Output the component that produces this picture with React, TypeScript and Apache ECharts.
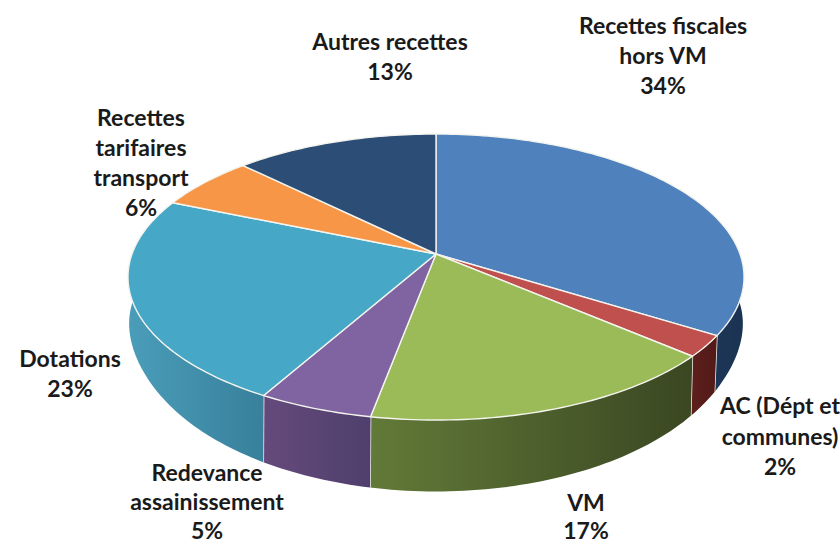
import React, { useEffect, useRef } from "react";
import * as echarts from "echarts";

const categories = [
  "Recettes fiscales\nhors VM",
  "AC (Dépt et\ncommunes)",
  "VM",
  "Redevance\nassainissement",
  "Dotations",
  "Recettes\ntarifaires\ntransport",
  "Autres recettes",
];
const values = [34.0, 2.4, 16.5, 5.2, 23.3, 6.1, 12.5];

const topColors = ["#4F81BD", "#C0504D", "#9BBB59", "#8064A2", "#46A8C6", "#F79646", "#2C4D75"];
const wallLeft = ["#1F3B60", "#5E1F1C", "#627A38", "#654A7C", "#4A9DB9", "#A8642E", "#1F3B60"];
const wallRight = ["#1B3352", "#511A18", "#3A4722", "#4F3F6C", "#38809C", "#A8642E", "#1F3B60"];
const labelFirstLines = [
  [663, 25], [780, 405], [586, 502], [207, 472], [70, 358], [141, 117], [390, 41],
];
const LINE_STEP = [30, 30.5, 27.5, 28.75, 30, 30, 30];

const CX = 436;
const total = values.reduce((a, b) => a + b, 0);
const startOf = (i: number) => values.slice(0, i).reduce((a, b) => a + b, 0);
const toAngle = (v: number) => (v / total) * 2 * Math.PI;

const project = (t: number, a: number, b: number, k: number, cy: number) => {
  const z = -Math.cos(t);
  const d = 1 - k * z;
  return [CX + (a * Math.sin(t)) / d, cy + (b * z) / d];
};
const topPoint = (t: number) => project(t, 304, 139.3, 0.161, 254);
const basePoint = (t: number) => {
  const p = project(t, 295, 155.5, 0.192, 299);
  const f = 1 + 0.025 * Math.pow(Math.sin(t), 12);
  return [CX + (p[0] - CX) * f, p[1]];
};

const sample = (a0: number, a1: number, fn: (t: number) => number[]) => {
  const n = Math.max(2, Math.ceil((a1 - a0) / 0.02));
  const out: number[][] = [];
  for (let i = 0; i <= n; i++) out.push(fn(a0 + ((a1 - a0) * i) / n));
  return out;
};

const WALL_FROM = (60 * Math.PI) / 180;
const WALL_TO = (300 * Math.PI) / 180;

const renderWall = (params: any, api: any) => {
  const i = params.dataIndex;
  const s = toAngle(startOf(i));
  const e = s + toAngle(api.value(0));
  const a0 = Math.max(s, WALL_FROM);
  const a1 = Math.min(e, WALL_TO);
  if (a1 <= a0) return { type: "group", children: [] };
  const points = [...sample(a0, a1, topPoint), ...sample(a0, a1, basePoint).reverse()];
  const children: any[] = [
    {
      type: "polygon",
      shape: { points },
      style: {
        fill: new echarts.graphic.LinearGradient(0, 0, 1, 0, [
          { offset: 0, color: wallLeft[i] },
          { offset: 1, color: wallRight[i] },
        ]),
      },
    },
  ];
  if (e <= WALL_TO) {
    const p = topPoint(e);
    const q = basePoint(e);
    children.push({
      type: "line",
      shape: { x1: p[0], y1: p[1], x2: q[0], y2: q[1] },
      style: { stroke: "#F4F4EE", lineWidth: 1.5 },
    });
  }
  return { type: "group", children };
};

const renderTop = (params: any, api: any) => {
  const i = params.dataIndex;
  const s = toAngle(startOf(i));
  const e = s + toAngle(api.value(0));
  return {
    type: "polygon",
    shape: { points: [[CX, 254], ...sample(s, e, topPoint)] },
    style: { fill: topColors[i], stroke: "#F4F4EE", lineWidth: 1.4, lineJoin: "round" },
  };
};

const seriesData = values.map((v, i) => ({ name: categories[i], value: [v] }));

const labelGraphics = categories.flatMap((name, i) =>
  [...name.split("\n"), `${Math.round(values[i])}%`].map((line, j) => ({
    type: "text",
    x: labelFirstLines[i][0],
    y: labelFirstLines[i][1] + j * LINE_STEP[i],
    z: 10,
    style: {
      text: line,
      fontFamily: "Lato",
      fontWeight: 700,
      fontSize: 23,
      lineHeight: 20,
      fill: "#1A1A1A",
      align: "center",
      verticalAlign: "middle",
    },
  }))
);

export default function App() {
  const ref = useRef<HTMLDivElement>(null);
  useEffect(() => {
    document.body.style.margin = "0";
    const chart = echarts.init(ref.current!, null, { renderer: "svg" });
    chart.setOption({
      animation: false,
      backgroundColor: "#ffffff",
      series: [
        { type: "custom", coordinateSystem: "none", renderItem: renderWall, data: seriesData, z: 1, silent: true },
        { type: "custom", coordinateSystem: "none", renderItem: renderTop, data: seriesData, z: 2, silent: true },
      ],
      graphic: labelGraphics,
    });
    return () => chart.dispose();
  }, []);
  return <div ref={ref} style={{ position: "absolute", left: 0, top: 0, width: 840, height: 542 }} />;
}
